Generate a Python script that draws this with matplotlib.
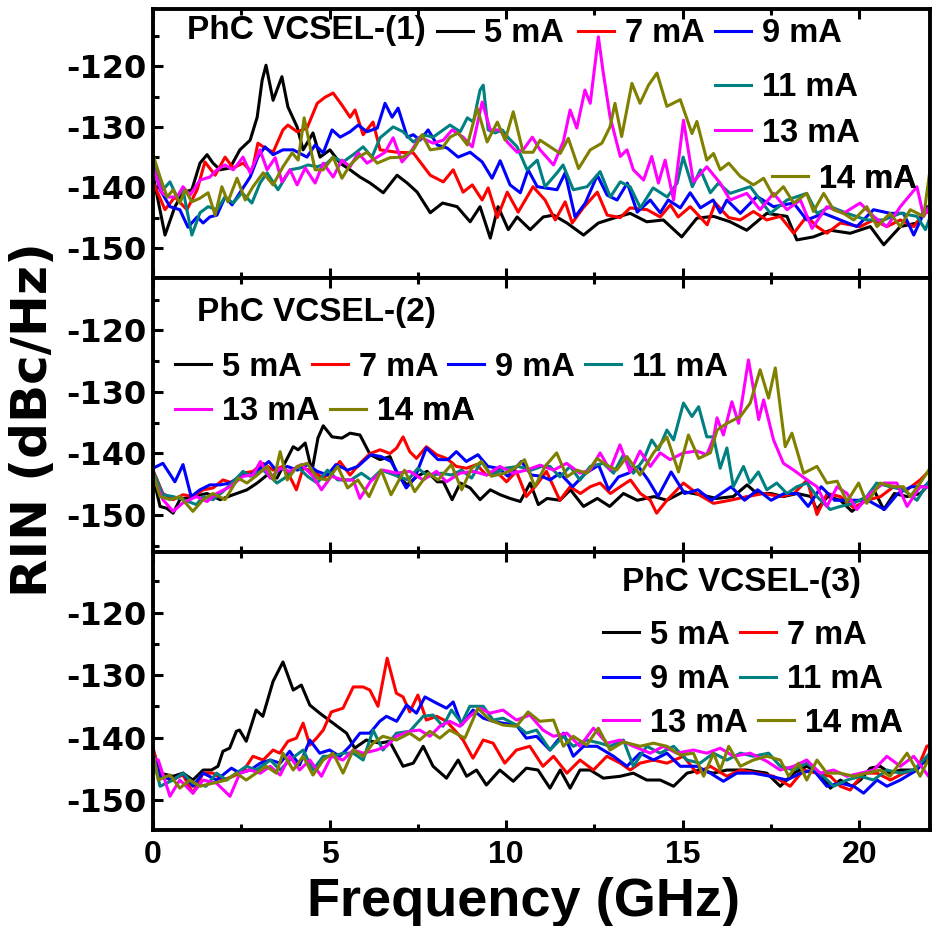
import matplotlib
matplotlib.use('Agg')
import matplotlib.pyplot as plt
from matplotlib.lines import Line2D
from matplotlib.ticker import MultipleLocator
import numpy as np

plt.rcParams['font.family'] = 'Liberation Sans'
plt.rcParams['font.weight'] = 'bold'
plt.rcParams['axes.unicode_minus'] = False

labels = ['5 mA', '7 mA', '9 mA', '11 mA', '13 mA', '14 mA']
colors = ['black', '#ff0000', '#0000ff', '#008080', '#ff00ff', '#808000']
titles = ['PhC VCSEL-(1)', 'PhC VCSEL-(2)', 'PhC VCSEL-(3)']
x_ticks = [0, 5, 10, 15, 20]
y_ticks = [-150, -140, -130, -120]

# ---- PhC VCSEL-(1): (GHz, dBc/Hz)
d1_5 = [(0.0, -138), (0.34, -147.9), (0.62, -143.2), (0.85, -140.9), (1.1, -140.4), (1.33, -136), (1.53, -134.6),
        (1.7, -136), (1.9, -137.1), (2.18, -136.8), (2.46, -133.8), (2.75, -132.2), (2.95, -128.4), (3.09, -122.3),
        (3.2, -119.8), (3.4, -125.6), (3.65, -121.7), (3.82, -126.7), (4.08, -130), (4.25, -133.8), (4.53, -131),
        (4.73, -135), (5.01, -133.8), (5.3, -136), (5.58, -137.1), (5.86, -138.3), (6.15, -139.3), (6.52, -140.9),
        (6.91, -138), (7.2, -139.3), (7.48, -140.8), (7.85, -144.2), (8.2, -142.6), (8.61, -143.2), (8.98, -145.7),
        (9.26, -143.2), (9.55, -148.4), (9.77, -143.2), (10.06, -147), (10.31, -144.9), (10.68, -147), (11.05, -144.9),
        (11.34, -144.6), (11.72, -145.9), (12.19, -147.9), (12.61, -145.9), (13.04, -145.1), (13.51, -144.3),
        (13.98, -145.7), (14.45, -145.4), (14.97, -148.2), (15.4, -145.1), (15.87, -144.8), (16.34, -145.7),
        (16.81, -147.1), (17.38, -144.3), (17.95, -144.8), (18.23, -148.7), (18.7, -148.2), (19.18, -147.1),
        (19.74, -147.6), (20.31, -146.5), (20.69, -149.5), (21.16, -146.5), (21.63, -145.9), (21.91, -143.2)]
d1_7 = [(0.0, -139.1), (0.34, -143.7), (0.62, -141.6), (0.96, -143.7), (1.25, -140.4), (1.47, -135.8), (1.76, -138),
        (2.04, -135), (2.27, -136.8), (2.55, -136), (2.8, -137.5), (2.97, -132.7), (3.17, -133.5), (3.4, -134.2),
        (3.68, -130.5), (3.82, -129.7), (4.08, -130.8), (4.36, -130.2), (4.65, -126.1), (4.87, -125.1), (5.1, -124.4),
        (5.35, -126.4), (5.58, -128.4), (5.72, -127.2), (5.95, -131.3), (6.23, -129.2), (6.43, -133.8), (6.91, -134.2),
        (7.37, -134.3), (7.85, -138), (8.22, -139.1), (8.5, -137.1), (8.78, -140.8), (9.04, -139.6), (9.32, -142.1),
        (9.49, -140.1), (9.75, -145), (10.03, -140.8), (10.34, -144.1), (10.76, -139.9), (11.1, -142.1),
        (11.39, -145.4), (11.67, -142.4), (11.87, -145.9), (12.18, -143.4), (12.58, -140.8), (12.86, -144.6),
        (13.23, -145), (13.51, -143.4), (13.99, -143.7), (14.36, -144.9), (14.65, -142.9), (14.87, -144.9),
        (15.21, -143.2), (15.44, -144.6), (15.69, -146.2), (15.92, -142.6), (16.3, -145.0), (16.63, -145.4),
        (17.0, -144.0), (17.38, -145.4), (17.76, -144.8), (18.14, -147.6), (18.51, -144.8), (18.8, -146.5),
        (19.08, -147.6), (19.46, -145.9), (20.02, -146.5), (20.4, -145.4), (20.78, -146.5), (21.16, -145.4),
        (21.54, -146.5), (21.82, -144.3), (22.0, -144)]
d1_9 = [(0.0, -136), (0.2, -140.4), (0.48, -143.2), (0.76, -143.7), (0.99, -146.6), (1.25, -144.9), (1.42, -145.9),
        (1.61, -144.9), (1.81, -144.6), (2.04, -141.6), (2.24, -142.9), (2.46, -140.9), (2.75, -138.3), (2.97, -135),
        (3.17, -133.3), (3.4, -134.6), (3.68, -133.8), (3.97, -133.8), (4.36, -135), (4.59, -133), (4.82, -134.3),
        (5.07, -130.5), (5.3, -131.7), (5.58, -130.8), (5.81, -129.7), (6.06, -130.8), (6.35, -130.2), (6.57, -126.1),
        (6.77, -128.4), (6.94, -126.9), (7.2, -131.7), (7.37, -131.3), (7.56, -132.2), (7.79, -130.5), (8.05, -133),
        (8.33, -133.5), (8.64, -135), (8.98, -134.2), (9.32, -135.8), (9.6, -138.5), (9.83, -135.6), (10.11, -139.6),
        (10.4, -140.9), (10.62, -137.1), (10.88, -139.9), (11.44, -140.4), (11.67, -137.6), (11.95, -144.9),
        (12.24, -142.6), (12.58, -138), (12.86, -141.3), (13.14, -142.1), (13.43, -139.3), (13.71, -144.1),
        (14.08, -142.1), (14.36, -144.2), (14.59, -142.1), (14.93, -143.4), (15.21, -140.9), (15.5, -143.4),
        (15.86, -142.1), (16.06, -144.2), (16.25, -142.1), (16.63, -144.3), (17.1, -141.5), (17.57, -143.2),
        (18.14, -142.6), (18.51, -145.4), (18.99, -144.3), (19.46, -145.4), (19.93, -146.5), (20.4, -143.7),
        (20.87, -144.3), (21.25, -144.3), (21.54, -147.9), (21.82, -144.3), (22.0, -143)]
d1_11 = [(0.0, -136.5), (0.28, -140.4), (0.48, -139.1), (0.68, -141.6), (0.85, -140.4), (1.1, -147.9), (1.33, -144.2),
         (1.56, -143.2), (1.81, -143.7), (2.04, -141.6), (2.27, -142.6), (2.52, -140.9), (2.8, -142.6), (3.03, -139.3),
         (3.23, -137.6), (3.54, -140.4), (3.88, -137.1), (4.16, -136.8), (4.39, -136.3), (4.65, -136.6), (4.93, -136),
         (5.1, -135), (5.38, -135.8), (5.67, -134.6), (5.95, -133.3), (6.2, -135), (6.43, -131.8), (6.8, -130),
         (7.08, -130.8), (7.37, -132.5), (7.65, -131.3), (7.93, -131.7), (8.41, -129.7), (8.7, -130.8), (8.9, -128.5),
         (9.07, -129.2), (9.26, -123.9), (9.35, -123.1), (9.49, -130.5), (9.69, -131), (9.89, -130.5), (10.06, -131.8),
         (10.31, -133.3), (10.59, -137.1), (10.88, -135.5), (11.1, -139.9), (11.44, -137.6), (11.61, -136.3),
         (11.9, -140.4), (12.29, -139.9), (12.66, -137.4), (12.95, -141.6), (13.23, -139.1), (13.51, -139.9),
         (13.8, -143.4), (14.16, -140.1), (14.56, -141.6), (14.84, -139.3), (15.01, -135), (15.27, -139.9),
         (15.5, -137.1), (15.78, -140.9), (16.01, -139.3), (16.34, -141.0), (16.91, -139.9), (17.48, -144.3),
         (17.95, -142.1), (18.51, -141.0), (18.8, -144.3), (19.18, -143.2), (19.65, -144.3), (20.21, -145.4),
         (20.69, -145.4), (21.16, -144.3), (21.63, -144.8), (21.87, -147.0), (22.0, -145)]
d1_13 = [(0.0, -136.6), (0.25, -140.9), (0.42, -141.6), (0.68, -141.6), (0.85, -139.9), (1.05, -141.3), (1.33, -138.8),
         (1.61, -138.3), (1.81, -137.1), (2.04, -136.3), (2.27, -137.1), (2.55, -135), (2.75, -137.6), (3.03, -133.8),
         (3.23, -137.1), (3.46, -135.1), (3.65, -139.1), (3.88, -137.1), (4.08, -139.6), (4.31, -136.8), (4.59, -139.3),
         (4.82, -136), (5.1, -138.3), (5.35, -135.5), (5.58, -136.6), (5.81, -134.3), (6.06, -136), (6.35, -135),
         (6.57, -134.2), (6.8, -131.8), (7.05, -135.8), (7.28, -134.3), (7.56, -131.7), (7.93, -132.7), (8.22, -132.2),
         (8.47, -130.5), (8.78, -131.7), (9.04, -133.3), (9.32, -125.9), (9.55, -130.5), (9.83, -130.5),
         (10.03, -132.5), (10.31, -134.2), (10.48, -133.8), (10.74, -131.7), (10.96, -133.8), (11.34, -136.3),
         (11.62, -132.4), (11.81, -127.2), (12.0, -130.2), (12.23, -123.9), (12.38, -126.1), (12.61, -115.1),
         (12.75, -121.1), (12.94, -128.3), (13.23, -134.9), (13.42, -133.8), (13.6, -137.1), (13.89, -138.8),
         (14.12, -134.9), (14.31, -139.3), (14.5, -135.5), (14.74, -142.1), (15.02, -128.9), (15.3, -139.1),
         (15.68, -136.6), (16.06, -139.3), (16.34, -142.1), (16.81, -141.0), (17.19, -143.7), (17.57, -141.0),
         (17.95, -143.7), (18.33, -142.1), (18.66, -146.8), (19.08, -143.2), (19.55, -144.3), (20.02, -142.6),
         (20.4, -144.8), (20.78, -146.5), (21.16, -143.2), (21.63, -139.9), (21.82, -144.8), (22.0, -143)]
d1_14 = [(0.0, -134.6), (0.2, -138.3), (0.4, -141.6), (0.57, -140.4), (0.76, -142.6), (0.91, -140.4), (1.1, -142.4),
         (1.33, -141.8), (1.56, -140.9), (1.76, -144.6), (1.95, -139.9), (2.12, -142.4), (2.38, -138.5), (2.61, -142.1),
         (2.83, -139.9), (3.12, -137.6), (3.4, -139.6), (3.68, -136.6), (3.94, -134.3), (4.11, -135.5), (4.28, -128.5),
         (4.45, -133.3), (4.59, -137.1), (4.82, -137.1), (5.1, -135), (5.35, -138.5), (5.58, -136.3), (5.81, -135),
         (6.06, -134.2), (6.35, -136), (6.71, -135.1), (7.08, -135), (7.37, -133.8), (7.62, -131.3), (7.85, -133.8),
         (8.19, -133.5), (8.41, -131.7), (8.64, -131), (8.9, -133), (9.18, -126.9), (9.46, -132.5), (9.75, -129.2),
         (9.97, -132.2), (10.2, -127.5), (10.48, -134.2), (10.76, -134.2), (10.96, -132.2), (11.53, -134.4),
         (11.76, -131.9), (12.05, -136.9), (12.38, -133.8), (12.71, -132.7), (12.94, -130.0), (13.08, -126.1),
         (13.27, -131.6), (13.56, -122.8), (13.79, -126.1), (14.03, -123.1), (14.27, -121.1), (14.55, -126.6),
         (14.93, -125.5), (15.26, -131.1), (15.4, -129.1), (15.68, -135.5), (15.87, -134.4), (16.06, -137.1),
         (16.3, -136.0), (16.63, -138.2), (17.0, -139.6), (17.29, -138.5), (17.57, -141.5), (17.85, -139.9),
         (18.14, -142.6), (18.51, -141.0), (18.7, -144.0), (18.99, -141.0), (19.27, -143.7), (19.55, -144.3),
         (19.84, -145.4), (20.21, -143.2), (20.5, -146.5), (20.87, -144.3), (21.16, -146.5), (21.44, -143.7),
         (21.82, -144.8), (22.0, -137.1)]

# ---- PhC VCSEL-(2)
d2_5 = [(0.0, -143.7), (0.2, -148.6), (0.39, -148.9), (0.57, -149.7), (0.76, -147.5), (1.13, -147), (1.53, -146.5),
        (1.9, -147.5), (2.27, -146.7), (2.66, -145.9), (2.95, -144.8), (3.23, -143.5), (3.51, -144), (3.8, -140.8),
        (3.97, -138.9), (4.11, -139.4), (4.31, -138.3), (4.5, -142.9), (4.67, -137.5), (4.82, -135.5), (5.07, -137.3),
        (5.35, -137.5), (5.58, -136.7), (5.86, -137), (6.15, -140.2), (6.43, -141), (6.71, -140.5), (6.94, -143.7),
        (7.2, -145.1), (7.48, -143.7), (7.76, -142.9), (8.05, -144.6), (8.22, -144.6), (8.47, -147.5), (8.7, -144.8),
        (8.98, -145.6), (9.26, -147.5), (9.55, -145.9), (9.83, -146.7), (10.11, -147.3), (10.4, -147.8),
        (10.68, -144.8), (10.91, -148.3), (11.16, -147.3), (11.52, -147.6), (11.82, -145.9), (12.19, -148.6),
        (12.58, -147.3), (12.93, -148.6), (13.32, -146.5), (13.71, -147.6), (14.19, -147.0), (14.55, -147.6),
        (15.02, -146.2), (15.49, -146.7), (15.96, -147.3), (16.43, -147.0), (16.82, -145.1), (17.1, -146.5),
        (17.49, -146.5), (17.85, -147.0), (18.24, -146.5), (18.63, -147.0), (18.79, -149.1), (19.1, -147.0),
        (19.46, -147.6), (19.79, -149.4), (20.13, -147.8), (20.41, -145.9), (20.69, -149.1), (20.99, -146.5),
        (21.35, -147.0), (21.73, -146.5), (22.0, -144.8)]
d2_7 = [(0.0, -142.7), (0.28, -146.5), (0.57, -147.5), (0.85, -146.7), (1.13, -147), (1.42, -145.9), (1.7, -145.6),
        (1.98, -144.3), (2.27, -144.8), (2.55, -143.2), (2.83, -142.9), (3.12, -141.6), (3.4, -142.7), (3.68, -142.1),
        (3.87, -143.7), (4.06, -145.9), (4.25, -142.4), (4.53, -142.9), (4.82, -144), (5.1, -142.7), (5.29, -141.3),
        (5.58, -143.5), (5.86, -141.6), (6.15, -140), (6.43, -139.4), (6.71, -140), (6.9, -139.1), (7.08, -137.3),
        (7.27, -139.7), (7.46, -140.8), (7.74, -138.9), (8.03, -140.2), (8.31, -140.8), (8.59, -142.1), (8.88, -142.4),
        (9.16, -141.8), (9.44, -143.5), (9.72, -142.9), (10.01, -144.6), (10.29, -142.9), (10.57, -147),
        (10.86, -145.1), (11.14, -142.9), (11.52, -147.6), (11.81, -145.4), (12.1, -146.5), (12.38, -145.4),
        (12.66, -144.8), (12.95, -146.5), (13.23, -145.4), (13.52, -144.3), (13.8, -146.5), (14.08, -147.6),
        (14.26, -149.7), (14.55, -147.6), (15.02, -144.8), (15.4, -146.5), (15.87, -148.1), (16.34, -147.6),
        (16.82, -147.0), (17.29, -146.5), (17.76, -147.0), (18.15, -146.5), (18.52, -144.3), (18.8, -149.9),
        (19.09, -146.5), (19.46, -147.0), (19.84, -148.8), (20.21, -147.6), (20.6, -147.0), (20.97, -145.4),
        (21.35, -145.9), (21.72, -144.3), (22.0, -142.7)]
d2_9 = [(0.0, -142.4), (0.28, -141.6), (0.62, -144.6), (0.85, -141.8), (1.08, -147), (1.33, -145.9), (1.61, -145.1),
        (1.9, -145.1), (2.18, -144.8), (2.46, -143.7), (2.75, -143.5), (3.04, -142.4), (3.28, -141.3), (3.51, -142.9),
        (3.8, -142.1), (4.09, -142.7), (4.37, -141.8), (4.65, -142.9), (4.94, -143.5), (5.18, -141.8), (5.51, -142.7),
        (5.8, -142.1), (6.17, -140.2), (6.46, -140.5), (6.74, -141.3), (6.98, -143.7), (7.17, -145.6), (7.41, -144),
        (7.74, -139.1), (8.07, -141), (8.35, -141), (8.59, -139.7), (8.87, -141.3), (9.2, -140.2), (9.48, -142.1),
        (9.77, -142.4), (10.05, -143.7), (10.43, -141.3), (10.71, -143.5), (11.0, -143.7), (11.24, -144.3),
        (11.52, -143.2), (11.88, -145.4), (12.25, -143.2), (12.62, -141.9), (12.9, -145.9), (13.18, -143.8),
        (13.46, -143.2), (13.74, -142.1), (14.02, -144.3), (14.3, -147.0), (14.67, -143.0), (15.05, -146.5),
        (15.43, -145.9), (15.81, -147.6), (16.09, -146.5), (16.37, -145.4), (16.75, -147.6), (17.12, -145.9),
        (17.5, -147.6), (17.87, -146.5), (18.25, -146.5), (18.55, -148.6), (18.92, -145.4), (19.3, -147.6),
        (19.77, -147.6), (20.24, -147.6), (20.71, -149.1), (21.09, -146.5), (21.47, -145.4), (21.84, -145.4),
        (22.0, -144.5)]
d2_11 = [(0.0, -142.9), (0.28, -146.7), (0.57, -147), (0.85, -147.5), (1.23, -148.3), (1.42, -147), (1.7, -147.5),
         (1.98, -146.2), (2.27, -144.6), (2.55, -142.9), (2.75, -143.7), (3.12, -142.7), (3.51, -144.8), (3.8, -143.7),
         (4.09, -142.1), (4.37, -143.7), (4.65, -144.8), (4.94, -142.7), (5.23, -144.3), (5.6, -144.3), (5.9, -143.2),
         (6.17, -144.3), (6.46, -142.7), (6.84, -143.5), (7.22, -144.3), (7.5, -142.4), (7.79, -143.7), (8.17, -143.2),
         (8.45, -143.5), (8.74, -142.7), (9.02, -144), (9.3, -141.3), (9.58, -143.5), (9.96, -142.4), (10.34, -142.1),
         (10.71, -142.7), (11.0, -142.1), (11.24, -142.1), (11.52, -143.8), (11.81, -142.1), (12.09, -144.3),
         (12.38, -142.1), (12.75, -141.6), (13.04, -143.2), (13.32, -140.2), (13.6, -143.2), (13.89, -141.0),
         (14.12, -137.8), (14.31, -139.4), (14.55, -136.2), (14.74, -137.8), (15.02, -131.8), (15.26, -134.0),
         (15.45, -132.4), (15.68, -137.3), (15.87, -137.3), (16.06, -142.4), (16.25, -139.1), (16.43, -145.4),
         (16.72, -142.1), (16.9, -144.8), (17.14, -143.0), (17.38, -145.9), (17.66, -144.8), (17.95, -146.5),
         (18.23, -145.4), (18.52, -144.8), (18.8, -147.0), (19.17, -149.1), (19.46, -148.6), (19.83, -148.1),
         (20.21, -147.0), (20.49, -144.8), (20.87, -145.4), (21.25, -145.9), (21.63, -147.6), (22.0, -144.3)]
d2_13 = [(0.0, -143.7), (0.28, -147.5), (0.57, -149.4), (0.85, -148), (1.23, -147), (1.53, -147.8), (1.8, -146.5),
         (2.18, -145.4), (2.55, -143.7), (2.83, -143.5), (3.04, -141.3), (3.32, -144), (3.6, -142.4), (3.87, -142.9),
         (4.2, -141.8), (4.53, -143.7), (4.77, -145.9), (5.05, -143.7), (5.37, -144.3), (5.67, -144.3), (5.86, -147.3),
         (6.15, -144.6), (6.52, -142.7), (6.9, -143.2), (7.27, -142.9), (7.65, -144.3), (8.03, -142.9), (8.31, -144.6),
         (8.69, -143.2), (9.07, -142.9), (9.44, -143.5), (9.82, -142.1), (10.2, -143.2), (10.57, -142.7),
         (10.96, -141.9), (11.34, -142.7), (11.71, -141.6), (12.09, -143.2), (12.38, -142.7), (12.66, -139.9),
         (12.94, -142.7), (13.22, -138.6), (13.51, -143.0), (13.79, -139.6), (14.08, -142.1), (14.36, -139.9),
         (14.64, -141.0), (15.02, -139.9), (15.4, -139.6), (15.68, -140.2), (15.87, -137.5), (15.97, -134.2),
         (16.15, -137.0), (16.39, -131.6), (16.58, -135.1), (16.86, -124.8), (17.15, -134.5), (17.29, -131.3),
         (17.57, -137.8), (17.85, -141.6), (18.14, -142.7), (18.52, -144.3), (18.8, -145.4), (19.08, -148.6),
         (19.37, -145.4), (19.65, -146.5), (19.93, -149.1), (20.31, -146.5), (20.69, -144.8), (21.06, -144.8),
         (21.35, -148.6), (21.72, -145.4), (22.0, -145.5)]
d2_14 = [(0.0, -143.2), (0.2, -147), (0.48, -147.5), (0.76, -147), (1.13, -149.4), (1.42, -147.5), (1.7, -146.5),
         (2.04, -147.5), (2.41, -144), (2.66, -144.8), (2.95, -143.5), (3.23, -142.1), (3.42, -144.3), (3.6, -139.7),
         (3.8, -144.3), (4.08, -142.1), (4.37, -141.6), (4.65, -144), (4.94, -144.3), (5.23, -142.1), (5.51, -145.6),
         (5.8, -144.3), (6.12, -147), (6.46, -142.7), (6.74, -146.7), (7.12, -142.7), (7.41, -146.2), (7.79, -143.2),
         (8.07, -144.3), (8.45, -141.8), (8.74, -145.9), (9.02, -142.4), (9.3, -141.3), (9.58, -143.7), (9.96, -143.2),
         (10.24, -142.4), (10.52, -141), (10.81, -145.4), (11.1, -142.1), (11.43, -139.9), (11.72, -143.8),
         (12.0, -142.7), (12.28, -143.2), (12.57, -140.8), (12.85, -141.9), (13.13, -142.7), (13.42, -140.5),
         (13.79, -143.5), (14.17, -139.9), (14.55, -137.3), (14.88, -143.0), (15.16, -137.0), (15.45, -140.8),
         (15.78, -139.9), (15.97, -136.2), (16.25, -135.1), (16.63, -134.0), (16.91, -131.8), (17.19, -126.4),
         (17.43, -131.0), (17.62, -126.1), (17.9, -138.9), (18.09, -136.7), (18.42, -143.2), (18.8, -142.1),
         (19.08, -144.8), (19.37, -144.5), (19.65, -147.8), (19.98, -144.8), (20.21, -148.1), (20.59, -144.8),
         (20.97, -145.4), (21.25, -145.4), (21.44, -147.0), (21.72, -144.8), (22.0, -142.4)]

# ---- PhC VCSEL-(3)
d3_5 = [(0.0, -142), (0.2, -145.7), (0.57, -146.2), (0.85, -145.7), (1.13, -146.8), (1.42, -145.2), (1.65, -145.2),
        (1.84, -144.6), (1.98, -142.2), (2.17, -141.7), (2.36, -139), (2.45, -138.8), (2.64, -140.6), (2.92, -135.6),
        (3.11, -136.6), (3.4, -131), (3.68, -127.9), (3.97, -132.4), (4.2, -131.6), (4.44, -134.8), (4.72, -136.1),
        (5.1, -137.7), (5.48, -139.3), (5.71, -141.7), (6.04, -140.4), (6.42, -140.9), (6.7, -140.6), (7.08, -144.6),
        (7.37, -144.1), (7.65, -141.4), (7.93, -144.6), (8.31, -146.5), (8.64, -143.6), (8.88, -146.2), (9.16, -145.2),
        (9.44, -147.6), (9.82, -145.2), (10.2, -147), (10.57, -144.9), (10.9, -145.2), (11.24, -148.1),
        (11.53, -145.2), (11.81, -148.1), (12.09, -145.2), (12.38, -145.2), (12.75, -146.5), (13.23, -146.2),
        (13.6, -145.7), (13.98, -146.8), (14.36, -146.8), (14.74, -147.8), (15.12, -145.7), (15.49, -145.2),
        (15.87, -145.7), (16.25, -145.2), (16.81, -145.2), (17.38, -145.7), (17.76, -147.8), (18.14, -145.7),
        (18.51, -144.6), (18.89, -145.7), (19.18, -148.1), (19.46, -146.8), (19.79, -147.8), (20.03, -146.8),
        (20.31, -144.9), (20.59, -144.6), (20.87, -145.7), (21.16, -145.2), (21.54, -145.2), (21.91, -143.6),
        (22.0, -142.5)]
d3_7 = [(0.0, -141.7), (0.2, -145.7), (0.48, -146.8), (0.85, -146), (1.13, -148.9), (1.42, -145.7), (1.7, -145.7),
        (1.98, -146.8), (2.27, -146.2), (2.55, -145.4), (2.83, -143), (3.12, -143.6), (3.4, -142), (3.59, -142.5),
        (3.82, -140.6), (4.06, -140.1), (4.25, -137.7), (4.44, -141.2), (4.63, -140.1), (4.82, -138.8), (5.05, -135.9),
        (5.38, -135.3), (5.67, -131.9), (5.95, -131.9), (6.14, -132.4), (6.37, -135), (6.63, -127.3), (6.89, -132.9),
        (7.08, -133.5), (7.27, -135.9), (7.5, -133.2), (7.74, -137.2), (8.03, -136.6), (8.31, -137.4), (8.54, -138.8),
        (8.78, -140.4), (9.06, -143.3), (9.35, -140.4), (9.63, -140.9), (9.96, -144.1), (10.29, -142), (10.67, -141.4),
        (11.04, -144.6), (11.34, -143), (11.72, -145.7), (12.09, -143.6), (12.47, -145.2), (12.85, -143),
        (13.23, -144.1), (13.51, -145.2), (13.79, -144.1), (14.17, -143.6), (14.55, -144.1), (15.02, -143),
        (15.4, -145.7), (15.78, -144.6), (16.25, -146.2), (16.63, -145.2), (17.1, -145.7), (17.57, -146.2),
        (18.04, -147.8), (18.42, -145.2), (18.8, -145.7), (19.18, -146.2), (19.46, -147.8), (19.74, -148.4),
        (20.12, -145.7), (20.5, -145.7), (20.88, -146.8), (21.25, -145.7), (21.63, -145.2), (21.91, -141.4),
        (22.0, -141.2)]
d3_9 = [(0.0, -142.5), (0.2, -146.2), (0.57, -146.8), (0.85, -145.7), (1.13, -147.8), (1.42, -145.7), (1.8, -146.8),
        (2.22, -144.9), (2.46, -145.7), (2.75, -145.2), (3.04, -144.1), (3.32, -143.6), (3.6, -144.1), (3.87, -142.2),
        (4.15, -144.4), (4.44, -140.4), (4.72, -142.5), (5.0, -142), (5.29, -143), (5.57, -141.4), (5.86, -139.3),
        (6.14, -139.3), (6.42, -137.4), (6.61, -136.6), (6.9, -137.4), (7.18, -134.8), (7.46, -136.1), (7.7, -133.5),
        (8.03, -134.5), (8.31, -135.3), (8.5, -134.3), (8.74, -138), (9.06, -135.6), (9.35, -136.9), (9.63, -137.4),
        (9.91, -137.7), (10.29, -138), (10.57, -140.1), (10.86, -139.8), (11.24, -142), (11.62, -139.3), (11.9, -143),
        (12.19, -141.4), (12.57, -141.4), (13.04, -143), (13.42, -144.6), (13.79, -142.5), (14.17, -143.6),
        (14.55, -142.5), (14.93, -144.6), (15.4, -144.6), (15.78, -145.7), (16.15, -147), (16.53, -145.7),
        (17.0, -145.7), (17.48, -146.2), (17.95, -146.8), (18.33, -145.7), (18.7, -145.2), (19.08, -147.8),
        (19.46, -147.3), (19.84, -147.8), (20.12, -148.9), (20.5, -146.8), (20.78, -147.8), (21.16, -146.8),
        (21.63, -145.2), (22.0, -142.5)]
d3_11 = [(0.0, -143), (0.2, -147.8), (0.57, -146.8), (0.85, -145.7), (1.13, -147.3), (1.5, -147.8), (1.8, -145.7),
         (2.08, -146.8), (2.36, -145.7), (2.64, -144.6), (2.92, -145.2), (3.32, -143.6), (3.6, -145.2), (3.87, -143.6),
         (4.25, -142), (4.53, -145.2), (4.82, -143), (5.1, -143), (5.38, -142.5), (5.67, -142.5), (5.95, -143.6),
         (6.23, -138.8), (6.51, -142), (6.89, -139.3), (7.27, -139), (7.65, -136.6), (7.93, -136.4), (8.21, -138.2),
         (8.45, -135.6), (8.74, -137.7), (8.97, -135), (9.35, -135), (9.63, -137.2), (9.91, -136.9), (10.29, -138),
         (10.57, -139.3), (10.86, -138.8), (11.24, -142), (11.62, -139.8), (11.9, -141.4), (12.28, -140.4),
         (12.66, -140.9), (12.94, -141.4), (13.32, -140.4), (13.6, -144.6), (13.98, -141.4), (14.36, -142.5),
         (14.74, -141.4), (15.12, -143.6), (15.49, -144.1), (15.87, -142.5), (16.25, -143.6), (16.63, -142.5),
         (17.0, -143), (17.43, -142.5), (17.76, -144.6), (18.14, -145.2), (18.51, -144.1), (18.89, -145.7),
         (19.27, -147.8), (19.65, -146.8), (20.03, -146.2), (20.4, -146.8), (20.78, -145.2), (21.16, -145.7),
         (21.54, -145.2), (22.0, -142.5)]
d3_13 = [(0.0, -143.3), (0.15, -143.6), (0.48, -149.4), (0.76, -146.8), (1.13, -148.9), (1.42, -146.8), (1.8, -147.3),
         (2.18, -149.4), (2.46, -145.7), (2.75, -145.2), (3.04, -145.7), (3.32, -144.6), (3.6, -146), (3.87, -143),
         (4.15, -145.2), (4.44, -143.6), (4.77, -146.2), (5.05, -143), (5.38, -143.6), (5.67, -142), (5.95, -142.5),
         (6.33, -142), (6.61, -141.4), (6.89, -139.8), (7.27, -139), (7.55, -138.8), (7.84, -139.8), (8.12, -138.2),
         (8.4, -137.4), (8.69, -138.2), (8.97, -136.6), (9.25, -135.3), (9.54, -136.1), (9.91, -135.6), (10.29, -137.2),
         (10.67, -136.4), (11.04, -138.8), (11.34, -139.8), (11.72, -139.3), (12.09, -141.4), (12.47, -138.5),
         (12.85, -140.9), (13.23, -140.4), (13.6, -141.4), (14.08, -142.5), (14.45, -141.4), (14.83, -142.5),
         (15.3, -142), (15.68, -142.5), (16.06, -141.7), (16.44, -143), (16.91, -142.5), (17.38, -143.8),
         (17.76, -145.2), (18.14, -144.6), (18.51, -143.6), (18.89, -145.7), (19.27, -145.2), (19.65, -146.2),
         (20.03, -145.7), (20.4, -145.2), (20.78, -143), (21.16, -144.6), (21.54, -143), (21.96, -146.2)]
d3_14 = [(0.0, -142.5), (0.15, -146.8), (0.48, -146), (0.76, -148.1), (1.04, -146.8), (1.33, -147.8), (1.7, -147.3),
         (2.08, -146.8), (2.36, -145.7), (2.64, -146.8), (2.92, -145.7), (3.21, -144.6), (3.49, -145.7), (3.68, -142.5),
         (3.97, -145.2), (4.25, -143), (4.53, -146), (4.82, -143.6), (5.1, -142.5), (5.38, -145.7), (5.67, -142),
         (5.95, -143), (6.23, -140.9), (6.51, -139.8), (6.89, -140.4), (7.27, -139.3), (7.55, -140.4), (7.84, -139),
         (8.12, -140.1), (8.4, -138.8), (8.83, -140.1), (9.2, -135.3), (9.54, -137.2), (9.91, -138), (10.29, -138.2),
         (10.62, -135.9), (10.95, -137.4), (11.34, -137.2), (11.62, -141.4), (11.9, -139.8), (12.28, -141.2),
         (12.61, -138.5), (12.94, -142), (13.32, -140.7), (13.79, -141.4), (14.17, -140.9), (14.55, -141.4),
         (14.93, -142.8), (15.3, -142.5), (15.59, -146.2), (15.87, -142.5), (16.06, -145.2), (16.3, -141.4),
         (16.63, -144.6), (17.0, -143.6), (17.38, -143), (17.76, -143.6), (18.0, -146.2), (18.28, -144.1),
         (18.51, -146.8), (18.8, -143.6), (19.08, -145.7), (19.46, -145.7), (19.84, -146.2), (20.21, -145.7),
         (20.59, -145.2), (20.87, -146.2), (21.35, -142.5), (21.72, -146.2), (22.0, -143)]

panels = [[d1_5, d1_7, d1_9, d1_11, d1_13, d1_14],
          [d2_5, d2_7, d2_9, d2_11, d2_13, d2_14],
          [d3_5, d3_7, d3_9, d3_11, d3_13, d3_14]]

W, H = 932, 926
fig = plt.figure(figsize=(W / 100, H / 100), dpi=100)

# panel boxes in pixels (top, bottom) and y ranges
boxes = [(9, 278), (278, 552), (552, 830)]
ylims = [(-155, -110.5), (-156, -111.5), (-154.8, -110.3)]
x0, x1 = 153, 930

# legend layout: title position and (handle-left x, y) per entry, pixels
title_pos = [(187, 31), (197, 312), (622, 583)]
entry_pos = [[(437, 34), (578, 34), (715, 34), (715, 88), (715, 133), (772, 179)],
             [(175, 367), (312, 367), (448, 367), (585, 367), (175, 412), (330, 412)],
             [(603, 635), (740, 635), (603, 680), (740, 680), (603, 723), (758, 723)]]

leg_font = dict(family='Liberation Sans', weight='bold', size=23.5)

for i, (top, bot) in enumerate(boxes):
    ax = fig.add_axes([x0 / W, 1 - bot / H, (x1 - x0) / W, (bot - top) / H])
    for data, c in zip(panels[i], colors):
        arr = np.array(data)
        ax.plot(arr[:, 0], arr[:, 1], color=c, lw=2.2, solid_joinstyle='round')
    ax.set_xlim(0, 22)
    ax.set_ylim(*ylims[i])
    ax.set_xticks(x_ticks)
    ax.xaxis.set_minor_locator(MultipleLocator(2.5))
    ax.set_yticks(y_ticks)
    ax.yaxis.set_minor_locator(MultipleLocator(5))
    ax.tick_params(which='both', direction='in', top=True, right=False, width=2.2)
    ax.tick_params(which='major', length=7)
    ax.tick_params(which='minor', length=4)
    ax.tick_params(axis='y', pad=5)
    ax.tick_params(axis='x', pad=7)
    for s in ax.spines.values():
        s.set_linewidth(2.8)
    for t in ax.get_yticklabels():
        t.set_fontproperties(dict(family='DejaVu Sans', weight='bold', size=23))
    if i < 2:
        ax.tick_params(axis='x', labelbottom=False)
    else:
        for t in ax.get_xticklabels():
            t.set_fontproperties(dict(family=['Liberation Sans Narrow', 'Liberation Sans'],
                                      weight='bold', size=23))

    tx, ty = title_pos[i]
    fig.text(tx / W, 1 - ty / H, titles[i], ha='left', va='center',
             fontsize=24, fontweight='bold')
    for (hx, hy), c, lab in zip(entry_pos[i], colors, labels):
        h = Line2D([], [], color=c, lw=2.2)
        leg = ax.legend([h], [lab], loc='center left', bbox_to_anchor=(hx / W, 1 - hy / H),
                        bbox_transform=fig.transFigure, frameon=False, borderpad=0,
                        borderaxespad=0, handlelength=1.1, handletextpad=0.35, prop=leg_font)
        ax.add_artist(leg)

fig.text(33 / W, 1 - 420 / H, 'RIN (dBc/Hz)', rotation=90, ha='center', va='center',
         fontsize=36, family='DejaVu Sans', fontweight='bold')
fig.text(524 / W, 1 - 902 / H, 'Frequency (GHz)', ha='center', va='center',
         fontsize=39, fontweight='bold')

fig.savefig('out.png', dpi=100)
